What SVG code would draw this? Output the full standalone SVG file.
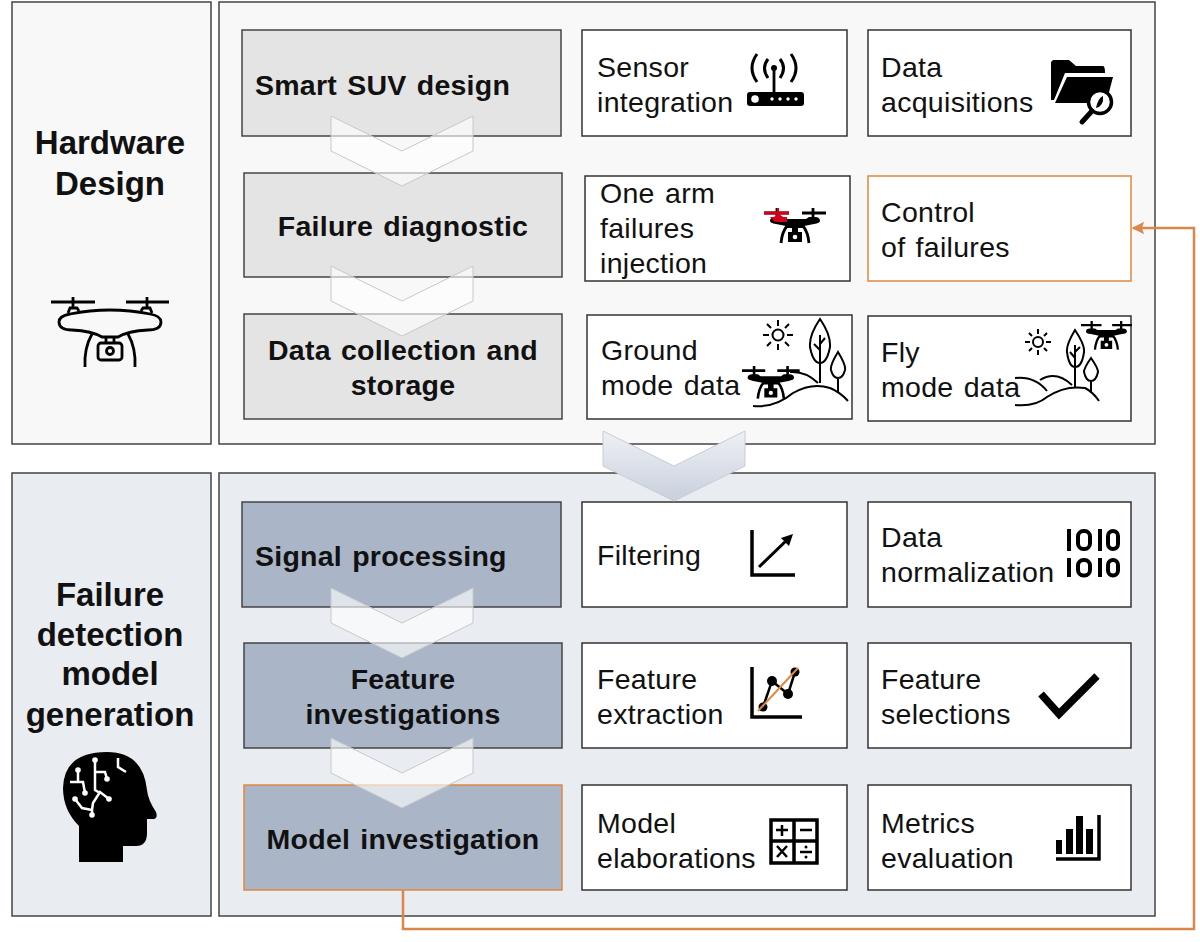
<svg xmlns="http://www.w3.org/2000/svg" width="1200" height="942" viewBox="0 0 1200 942">
<style>
text{font-family:"Liberation Sans",Arial,sans-serif;fill:#111}
.h{font-size:33px;font-weight:700;text-anchor:middle}
.b{font-size:28.5px;font-weight:700;letter-spacing:.25px;word-spacing:2px}
.m{text-anchor:middle}
.t{font-size:28.500px;letter-spacing:.3px;word-spacing:2px}
.pu{fill:#f8f8f8;stroke:#444;stroke-width:1.5}
.pl{fill:#e9edf2;stroke:#444;stroke-width:1.5}
.bu{fill:#e5e4e4;stroke:#444;stroke-width:1.5}
.bl{fill:#aab5c8;stroke:#444;stroke-width:1.5}
.c{fill:#fff;stroke:#333;stroke-width:1.5}
.o{stroke:#e0883f}
.chev{fill:#fff;fill-opacity:.62;stroke:#c8c8c8;stroke-width:1}
.line{fill:none;stroke:#000;stroke-width:2}
.thick{fill:none;stroke:#000;stroke-width:2.8}
.ico{fill:none;stroke:#000;stroke-width:3.5}
.wh{fill:none;stroke:#fff;stroke-width:2.5}
.link{fill:none;stroke:#d9874a;stroke-width:2.5}
</style>
<defs>
<linearGradient id="bigc" x1="0" y1="0" x2="0" y2="1"><stop offset="0" stop-color="#eef0f4"/><stop offset="1" stop-color="#c9d0dc"/></linearGradient>
<marker id="ah" viewBox="0 0 10 10" refX="9" refY="5" markerWidth="5" markerHeight="5" orient="auto-start-reverse" markerUnits="strokeWidth"><path d="M0 0L10 5L0 10L2 5Z" fill="#d9874a"/></marker>
<polygon id="ch" points="0,0 71,35 142,0 142,35 71,70 0,35"/>
<g id="dr">
<path d="M0 5H25M38 5H62M13 0V10M49 0V10" fill="none" stroke="#000" stroke-width="2.800"/>
<path d="M6 13Q6 9 11 9H17L20 11H42L45 9H51Q56 9 56 13Q56 15 50 16L40 18V20H22V18L12 16Q6 15 6 13Z" fill="#000"/>
<path d="M23 18Q18 24 17 35M39 18Q44 24 45 35" fill="none" stroke="#000" stroke-width="2.800"/>
<path d="M28 19H34V24H38V34H24V24H28Z" fill="#000"/><circle cx="31" cy="29" r="2.300" fill="#fff"/>
</g>
</defs>
<rect width="1200" height="942" fill="#fff"/>

<g id="hardware-design"><rect class="pu" x="12" y="2" width="199" height="442"/>
<text class="h" x="110" y="154">Hardware</text><text class="h" x="110" y="195">Design</text>
<g class="thick">
<path d="M51 302H95M126 302H169M73 297V309M147 297V309"/>
<path d="M68 313L70 308H77L79 311M141 311L143 308H150L152 313"/>
<path d="M70 314Q110 306 150 314Q161 316 161 322Q161 330 148 330Q128 331 118 337H102Q92 331 72 330Q59 330 59 322Q59 316 70 314Z"/>
<path d="M92 334Q84 348 85 367M128 334Q136 348 135 367"/>
<rect x="98" y="343" width="24" height="17" rx="3"/><circle cx="110" cy="351" r="3.500"/><path d="M106 343V337M114 343V337"/>
</g></g>
<g id="hardware-panel"><rect class="pu" x="219" y="2" width="936" height="442"/></g>

<g id="failure-detection"><rect class="pl" x="12" y="473" width="199" height="443"/>
<text class="h" x="110" y="606">Failure</text><text class="h" x="110" y="646">detection</text><text class="h" x="110" y="685">model</text><text class="h" x="110" y="726">generation</text>
<path d="M79 862V826Q63 810 63 788Q64 752 107 752Q143 752 147 790Q148 800 156 812Q158 818 154 819H147V833Q147 846 136 846H123V862Z" fill="#000"/>
<path class="wh" d="M95 760V790L100 793M95 772H105L107 779M78 770V782M70 782H83L85 793M75 799L82 808L92 810V815M92 810L93 803L100 792L109 799M118 758V767L126 772"/>
<g fill="#fff"><circle cx="95" cy="760" r="2.800"/><circle cx="107" cy="779" r="2.800"/><circle cx="78" cy="770" r="2.800"/><circle cx="85" cy="793" r="2.800"/><circle cx="75" cy="799" r="2.800"/><circle cx="92" cy="815" r="2.800"/><circle cx="109" cy="799" r="2.800"/></g>
</g>
<g id="failure-panel"><rect class="pl" x="219" y="473" width="936" height="443"/></g>

<g id="smart-suv"><rect class="bu" x="242" y="30" width="319" height="106"/><text class="b" x="255" y="95">Smart SUV design</text></g>
<g id="failure-diagnostic"><rect class="bu" x="244" y="173" width="318" height="104"/><text class="b m" x="403" y="236">Failure diagnostic</text></g>
<g id="data-collection"><rect class="bu" x="244" y="314" width="318" height="105"/><text class="b m" x="403" y="360">Data collection and</text><text class="b m" x="403" y="395">storage</text></g>
<g id="signal-processing"><rect class="bl" x="242" y="502" width="319" height="105"/><text class="b" x="255" y="566">Signal processing</text></g>
<g id="feature-investigations"><rect class="bl" x="244" y="643" width="318" height="105"/><text class="b m" x="403" y="689">Feature</text><text class="b m" x="403" y="724">investigations</text></g>
<g id="model-investigation"><rect class="bl o" x="244" y="785" width="318" height="105"/><text class="b m" x="403" y="849">Model investigation</text></g>

<g id="sensor-integration"><rect class="c" x="582" y="30" width="265" height="106"/><text class="t" x="597" y="77">Sensor</text><text class="t" x="597" y="112">integration</text>
<path d="M774 68V93" stroke="#000" stroke-width="2.800"/><circle cx="774" cy="68" r="3"/>
<path d="M768 59Q761 68 768 78M780 59Q787 68 780 78M757 54Q747 68 757 82M791 54Q801 68 791 82" fill="none" stroke="#000" stroke-width="3"/>
<rect x="747" y="92" width="57" height="14" rx="3" fill="#000"/><g fill="#fff"><circle cx="755" cy="99" r="3.800"/><circle cx="772" cy="99" r="1.700"/><circle cx="780" cy="99" r="1.700"/><circle cx="788" cy="99" r="1.700"/><circle cx="796" cy="99" r="1.700"/></g></g>
<g id="data-acquisitions"><rect class="c" x="868" y="30" width="263" height="106"/><text class="t" x="881" y="77">Data</text><text class="t" x="881" y="112">acquisitions</text>
<path d="M1053 60H1069L1076 66H1103Q1105 66 1105 73H1065L1054 100H1051V62Z" fill="#000"/><path d="M1067 77H1113L1108 96L1095 92L1087 103H1055Z" fill="#000"/>
<circle cx="1100" cy="102" r="11.500" fill="#fff" stroke="#000" stroke-width="3.500"/><path d="M1103 96Q1098 98 1096 108Q1104 106 1103 96Z" fill="#000"/><path d="M1092 111L1082 122" stroke="#000" stroke-width="5" stroke-linecap="round"/></g>
<g id="one-arm"><rect class="c" x="585" y="176" width="265" height="105"/><text class="t" x="600" y="203">One arm</text><text class="t" x="600" y="238">failures</text><text class="t" x="600" y="273">injection</text>
<use href="#dr" x="764" y="208"/><path d="M764 213H789" stroke="#d4001a" stroke-width="3"/><path d="M777 208V214L772 219H786L779 214V208Z" fill="#d4001a"/><path d="M770 217H787V222H775Z" fill="#d4001a"/></g>
<g id="control-failures"><rect class="c o" x="868" y="176" width="263" height="105"/><text class="t" x="881" y="222">Control</text><text class="t" x="881" y="257">of failures</text></g>
<g id="ground-mode"><rect class="c" x="587" y="315" width="265" height="104"/><text class="t" x="601" y="360">Ground</text><text class="t" x="601" y="395">mode data</text>
<g class="line"><circle cx="778" cy="335" r="5.500"/><path d="M778 320V326M778 344V350M763 335H769M787 335H793M767 324L771 328M785 342L789 346M789 324L785 328M771 342L767 346"/>
<path d="M820 319Q809 335 810 347Q813 363 820 363Q827 363 830 347Q831 335 820 319ZM820 335V383M820 350L814 344M820 344L825 338M838 352Q830 365 831 370Q833 378 838 378Q843 378 845 370Q846 365 838 352ZM838 378V392M790 372Q806 371 818 383M753 406Q775 408 793 393Q812 382 830 388Q840 392 848 401"/></g>
<use href="#dr" transform="translate(742 366) scale(.93)"/></g>
<g id="fly-mode"><rect class="c" x="868" y="316" width="263" height="105"/><text class="t" x="881" y="362">Fly</text><text class="t" x="881" y="397">mode data</text>
<g class="line"><circle cx="1038" cy="342" r="5"/><path d="M1038 329V334M1038 350V355M1025 342H1030M1046 342H1051M1029 333L1032 336M1044 348L1047 351M1047 333L1044 336M1032 348L1029 351"/>
<path d="M1075 330Q1066 345 1067 352Q1069 367 1075 367Q1082 367 1084 352Q1085 345 1075 330ZM1075 345V388M1075 358L1070 352M1075 352L1080 347M1091 358Q1084 368 1084 372Q1086 381 1091 381Q1096 381 1098 372Q1098 368 1091 358ZM1091 381V393M1015 378Q1035 376 1047 391M1040 380Q1056 370 1072 385M1015 405Q1035 407 1047 397Q1065 385 1085 388Q1093 392 1099 401"/></g>
<use href="#dr" transform="translate(1081 321) scale(.82)"/></g>

<g id="filtering"><rect class="c" x="582" y="502" width="265" height="105"/><text class="t" x="597" y="565">Filtering</text>
<path class="ico" d="M752 530V575H795"/><path d="M759 567L789 538" stroke="#000" stroke-width="3"/><path d="M793 534L781 538L789 546Z" fill="#000"/></g>
<g id="data-normalization"><rect class="c" x="868" y="502" width="263" height="105"/><text class="t" x="881" y="547">Data</text><text class="t" x="881" y="582">normalization</text>
<g fill="none" stroke="#000" stroke-width="4"><path d="M1069 529V551M1069 558V577M1100 529V551M1100 558V577"/><rect x="1078" y="531" width="12" height="18" rx="5.500"/><rect x="1108" y="531" width="10" height="18" rx="5"/><rect x="1078" y="560" width="12" height="15.500" rx="5.500"/><rect x="1108" y="560" width="10" height="15.500" rx="5"/></g></g>
<g id="feature-extraction"><rect class="c" x="582" y="643" width="265" height="105"/><text class="t" x="597" y="689">Feature</text><text class="t" x="597" y="724">extraction</text>
<path class="ico" d="M752 667V717H802"/><path d="M763 707L772 681L788 694L795 672" fill="none" stroke="#000" stroke-width="2.500"/><g fill="#000"><circle cx="763" cy="707" r="4.500"/><circle cx="772" cy="681" r="5"/><circle cx="788" cy="694" r="5"/><circle cx="795" cy="672" r="4.500"/></g><path d="M758 711L798 668" stroke="#e0883f" stroke-width="2"/></g>
<g id="feature-selections"><rect class="c" x="868" y="643" width="263" height="105"/><text class="t" x="881" y="689">Feature</text><text class="t" x="881" y="724">selections</text>
<path d="M1041 694L1059 714L1097 676" fill="none" stroke="#000" stroke-width="7.500"/></g>
<g id="model-elaborations"><rect class="c" x="582" y="785" width="265" height="105"/><text class="t" x="597" y="833">Model</text><text class="t" x="597" y="868">elaborations</text>
<path d="M771 820H817V863H771ZM794 820V863M771 841H817" fill="none" stroke="#000" stroke-width="3.500"/>
<path d="M782 825V836M776 830H788M800 830H812M777 846L787 857M787 846L777 857M800 852H812" stroke="#000" stroke-width="2.500"/><circle cx="806" cy="847" r="1.500"/><circle cx="806" cy="857" r="1.500"/></g>
<g id="metrics-evaluation"><rect class="c" x="868" y="785" width="263" height="105"/><text class="t" x="881" y="833">Metrics</text><text class="t" x="881" y="868">evaluation</text>
<path d="M1056 840H1062V854H1056ZM1066 829H1073V854H1066ZM1076 816H1083V854H1076ZM1086 829H1093V854H1086Z" fill="#000"/><path d="M1099 815V859H1056" fill="none" stroke="#000" stroke-width="3.500"/></g>

<g id="connectors">
<use href="#ch" class="chev" x="331" y="116"/>
<use href="#ch" class="chev" x="331" y="266"/>
<use href="#ch" class="chev" x="331" y="588"/>
<use href="#ch" class="chev" x="331" y="738"/>
<use href="#ch" x="603" y="431" fill="url(#bigc)" stroke="#c8ccd4" stroke-width="1"/>
<path class="link" d="M403 890V929H1194V228H1133" marker-end="url(#ah)"/>
</g>
</svg>
